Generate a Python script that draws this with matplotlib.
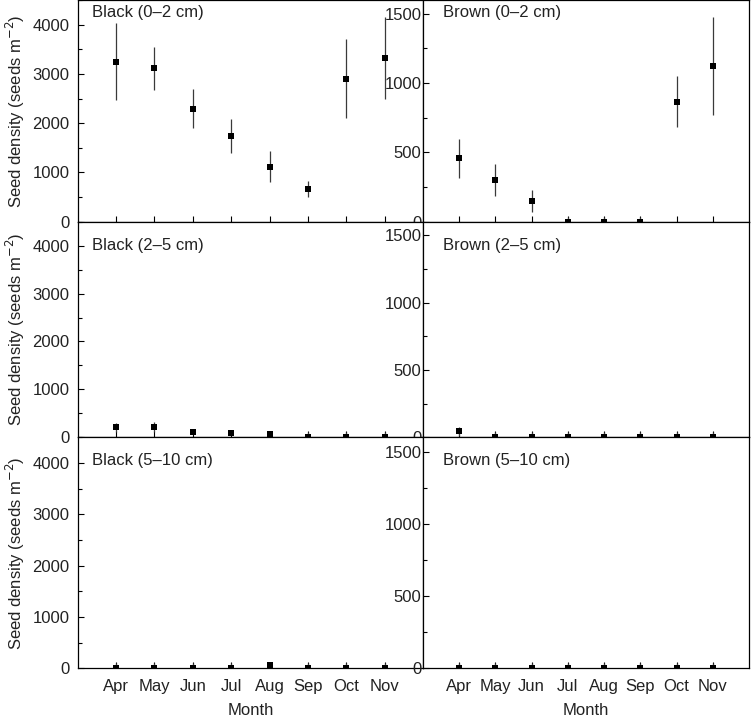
import matplotlib
matplotlib.use("Agg")
import matplotlib.pyplot as plt
from matplotlib.ticker import MultipleLocator
import numpy as np

plt.rcParams['font.family'] = ['Liberation Sans', 'DejaVu Sans']

months = ['Apr', 'May', 'Jun', 'Jul', 'Aug', 'Sep', 'Oct', 'Nov']

black_0_2 = [3250, 3110, 2290, 1740, 1120, 665, 2900, 3320]
black_0_2_err = [775, 430, 395, 345, 310, 165, 800, 835]
brown_0_2 = [457, 302, 148, 0, 0, 0, 866, 1123]
brown_0_2_err = [142, 114, 78, 35, 35, 35, 185, 355]

black_2_5 = [210, 215, 105, 85, 75, 15, 15, 15]
black_2_5_err = [95, 95, 40, 35, 30, 100, 100, 100]
brown_2_5 = [45, 0, 0, 0, 0, 0, 0, 0]
brown_2_5_err = [35, 40, 40, 40, 40, 40, 40, 40]

black_5_10 = [0, 0, 0, 0, 60, 0, 0, 0]
black_5_10_err = [110, 110, 110, 110, 30, 110, 110, 110]
brown_5_10 = [0, 0, 0, 0, 0, 0, 0, 0]
brown_5_10_err = [40, 40, 40, 40, 40, 40, 40, 40]

titles_black = ['Black (0\u20132 cm)', 'Black (2\u20135 cm)', 'Black (5\u201310 cm)']
titles_brown = ['Brown (0\u20132 cm)', 'Brown (2\u20135 cm)', 'Brown (5\u201310 cm)']

W, H = 751, 717
fig = plt.figure(figsize=(W / 100, H / 100), dpi=100)

text_col = '#222222'
err_col = '#3a3a3a'

rows = [(0.0, 221.7), (221.7, 437.3), (437.3, 668.3)]
lx0, lx1 = 77.7, 423.0
rx0, rx1 = 423.0, 749.0

black_data = [(black_0_2, black_0_2_err), (black_2_5, black_2_5_err), (black_5_10, black_5_10_err)]
brown_data = [(brown_0_2, brown_0_2_err), (brown_2_5, brown_2_5_err), (brown_5_10, brown_5_10_err)]
title_offsets = [12, 24, 23]

x = np.arange(1, len(months) + 1)

def style(ax, ymax, major, minor, ylabpad, show_x):
    ax.set_xlim(0, 9)
    ax.set_ylim(0, ymax)
    ax.yaxis.set_major_locator(MultipleLocator(major))
    ax.yaxis.set_minor_locator(MultipleLocator(minor))
    ax.set_xticks(x)
    ax.tick_params(axis='both', which='both', direction='in', top=False, right=False,
                   colors='black', labelcolor=text_col, labelsize=12, width=0.8)
    ax.tick_params(axis='y', which='major', length=4, pad=ylabpad)
    ax.tick_params(axis='y', which='minor', length=3)
    ax.tick_params(axis='x', which='major', length=4, pad=8)
    if show_x:
        ax.set_xticklabels(months)
        ax.set_xlabel('Month', fontsize=12, color=text_col, labelpad=6)
    else:
        ax.set_xticklabels([])
    for s in ax.spines.values():
        s.set_linewidth(0.9)

for i, (t, b) in enumerate(rows):
    h = b - t
    axl = fig.add_axes([lx0 / W, (H - b) / H, (lx1 - lx0) / W, h / H])
    axr = fig.add_axes([rx0 / W, (H - b) / H, (rx1 - rx0) / W, h / H])
    for ax, (vals, errs), ymax, major, minor, pad, title, tx in [
        (axl, black_data[i], 4500, 1000, 500, 6, titles_black[i], 14),
        (axr, brown_data[i], 1600, 500, 250, 1, titles_brown[i], 20),
    ]:
        ax.errorbar(x, vals, yerr=errs, fmt='s', color='black', ecolor=err_col,
                    elinewidth=0.9, capsize=3, capthick=0.9, markersize=4.5,
                    markeredgewidth=0)
        style(ax, ymax, major, minor, pad, i == 2)
        ax.text(tx / ((lx1 - lx0) if ax is axl else (rx1 - rx0)),
                1 - title_offsets[i] / h, title, transform=ax.transAxes,
                ha='left', va='center', fontsize=12, color=text_col)
        if ax is axl:
            ax.set_ylabel('Seed density (seeds m$^{-2}$)', fontsize=12,
                          color=text_col, labelpad=4)
        else:
            ax.spines['left'].set_zorder(5)

fig.savefig('out.png', dpi=100)
